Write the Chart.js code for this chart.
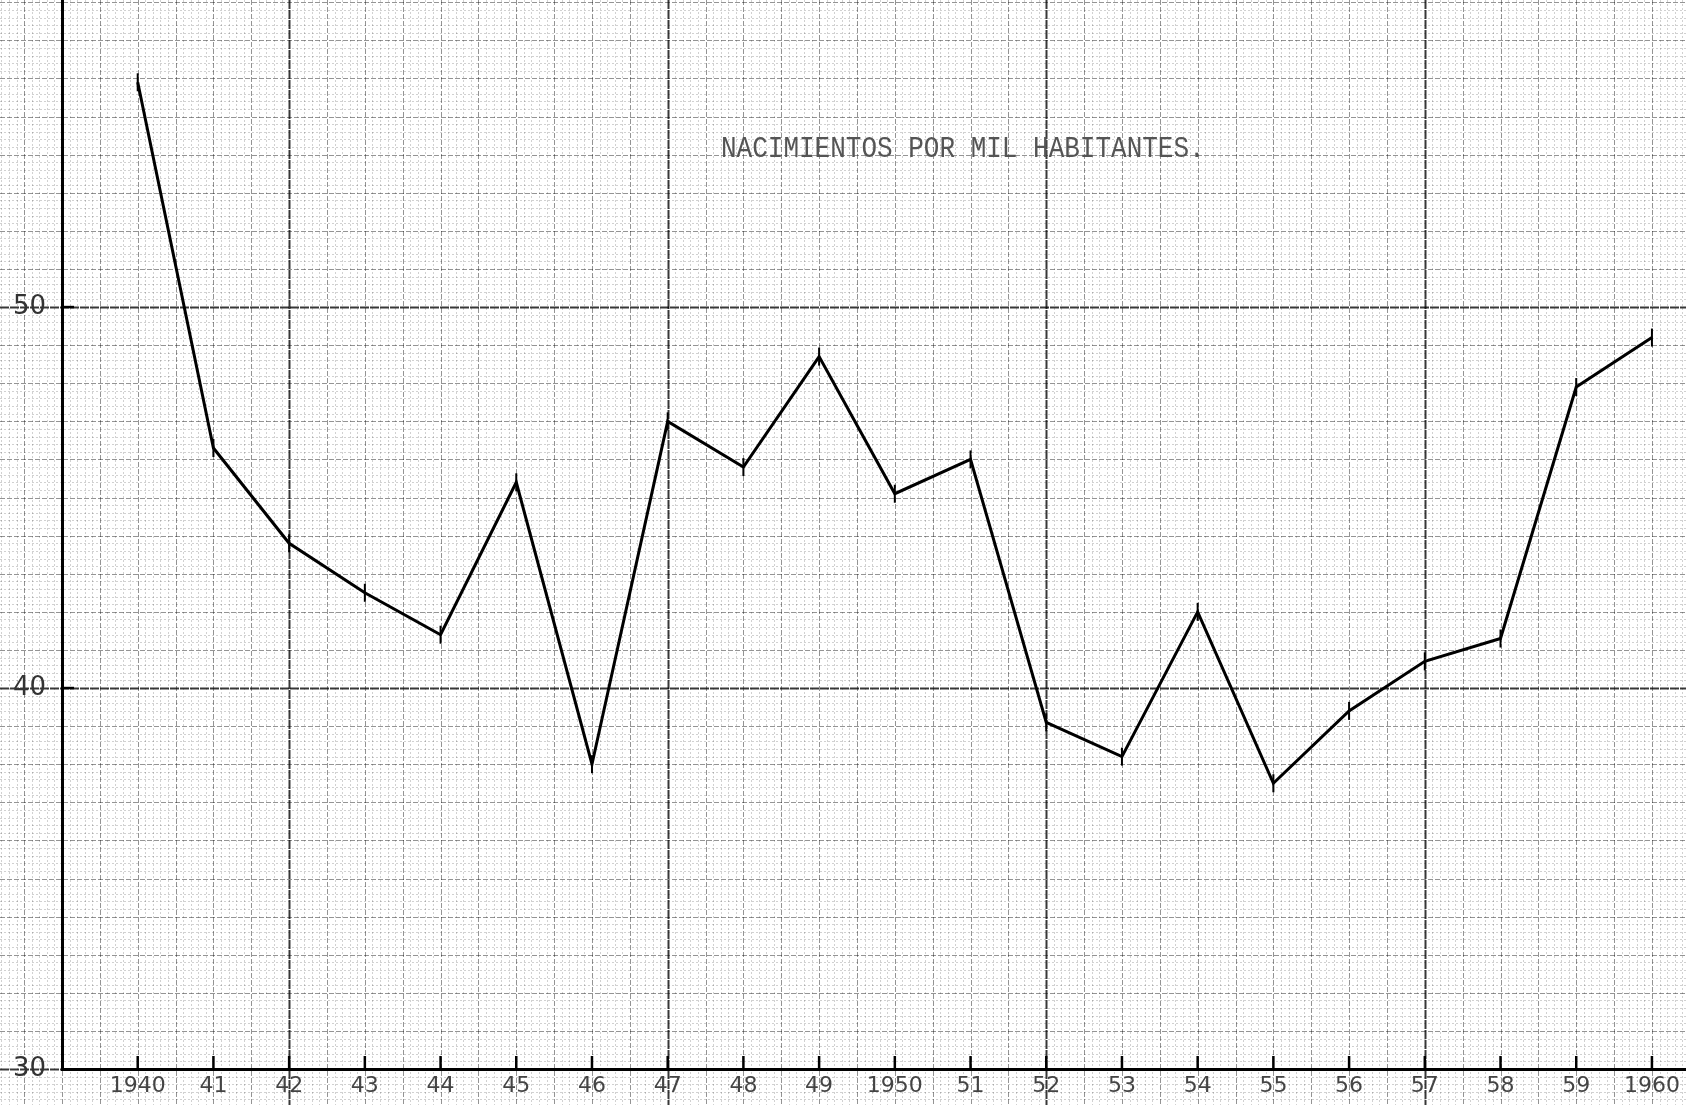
<!DOCTYPE html>
<html>
<head>
<meta charset="utf-8">
<script src="https://cdn.jsdelivr.net/npm/chart.js@4.4.1/dist/chart.umd.min.js"></script>
<style>
  html, body { margin: 0; padding: 0; background: #fff; }
  #wrap { position: relative; width: 1686px; height: 1105px; }
  #title {
    position: absolute; left: 721px; top: 134px;
    font-family: "Liberation Mono", monospace; font-size: 26px; line-height: 26px;
    color: #555; white-space: nowrap;
    transform: scaleY(1.15); transform-origin: left top;
  }
</style>
</head>
<body>
<div id="wrap">
  <canvas id="myChart" width="1686" height="1105"></canvas>
  <div id="title">NACIMIENTOS POR MIL HABITANTES.</div>
</div>
<script>
const years = [1940, 1941, 1942, 1943, 1944, 1945, 1946, 1947, 1948, 1949, 1950,
               1951, 1952, 1953, 1954, 1955, 1956, 1957, 1958, 1959, 1960];
const yearLabels = ['1940', '41', '42', '43', '44', '45', '46', '47', '48', '49', '1950',
                    '51', '52', '53', '54', '55', '56', '57', '58', '59', '1960'];
// nacimientos por mil habitantes
const births = [55.9, 46.3, 43.8, 42.5, 41.4, 45.4, 38.0, 47.0, 45.8, 48.7, 45.1,
                46.0, 39.1, 38.2, 42.0, 37.5, 39.4, 40.7, 41.3, 47.9, 49.2];
const yTickLabels = [30, 40, 50];

// graph paper drawn behind the chart, positioned with the chart's own scales
const paper = {
    id: 'paper',
    beforeDraw(chart) {
        const {ctx, width, height} = chart;
        const xs = chart.scales.x, ys = chart.scales.y;
        ctx.save();
        ctx.fillStyle = '#fff';
        ctx.fillRect(0, 0, width, height);

        const line = (kind, x1, y1, x2, y2) => {
            if (kind === 2) { ctx.strokeStyle = 'rgba(0,0,0,0.78)'; ctx.lineWidth = 2; ctx.setLineDash([9, 1]); }
            else if (kind === 1) { ctx.strokeStyle = 'rgba(0,0,0,0.42)'; ctx.lineWidth = 1; ctx.setLineDash([5, 2]); }
            else { ctx.strokeStyle = 'rgba(0,0,0,0.18)'; ctx.lineWidth = 1; ctx.setLineDash([2, 2]); }
            ctx.beginPath();
            ctx.moveTo(x1, y1);
            ctx.lineTo(x2, y2);
            ctx.stroke();
        };

        // vertical lines every 0.1 year
        for (let k = 19380; k <= 19610; k++) {
            const px = Math.round(xs.getPixelForValue(k / 10)) + 0.5;
            let kind = 0;
            if ((k - 19420) % 50 === 0) kind = 2;
            else if (k % 5 === 0) kind = 1;
            line(kind, px, 0, px, height);
        }
        // horizontal lines every 0.2 unit
        for (let k = 145; k <= 295; k++) {
            const py = Math.round(ys.getPixelForValue(k / 5)) + 0.5;
            let kind = 0;
            if (k % 50 === 0) kind = 2;
            else if (k % 5 === 0) kind = 1;
            line(kind, 0, py, width, py);
        }
        ctx.restore();
    },
    afterDraw(chart) {
        const {ctx} = chart;
        const xs = chart.scales.x, ys = chart.scales.y;
        const area = chart.chartArea;
        ctx.save();
        ctx.strokeStyle = '#000';
        ctx.lineWidth = 2.5;
        years.forEach(yr => {
            const px = xs.getPixelForValue(yr);
            ctx.beginPath();
            ctx.moveTo(px, area.bottom);
            ctx.lineTo(px, area.bottom - 13);
            ctx.stroke();
        });
        yTickLabels.slice(1).forEach(v => {
            const py = ys.getPixelForValue(v);
            ctx.beginPath();
            ctx.moveTo(area.left, py);
            ctx.lineTo(area.left + 12, py);
            ctx.stroke();
        });
        ctx.restore();
    }
};

function noPadding(scale) {
    scale.paddingTop = 0;
    scale.paddingBottom = 0;
    scale.paddingLeft = 0;
    scale.paddingRight = 0;
}

function updateChart() {
    const ctx = document.getElementById('myChart');

    new Chart(ctx, {
        type: 'line',
        data: {
            datasets: [{
                label: 'Nacimientos por mil habitantes',
                data: years.map((yr, i) => ({x: yr, y: births[i]})),
                borderColor: '#000',
                borderWidth: 3,
                pointStyle: 'line',
                rotation: 90,
                pointRadius: 9,
                pointBorderWidth: 2,
                pointBorderColor: '#000',
                tension: 0,
                fill: false
            }]
        },
        options: {
            responsive: false,
            animation: false,
            layout: { padding: 0, autoPadding: false },
            plugins: {
                legend: { display: false },
                tooltip: { enabled: false }
            },
            scales: {
                x: {
                    type: 'linear',
                    min: 1939,
                    max: 1960.45,
                    grid: { display: false, drawTicks: false },
                    border: { display: true, color: '#000', width: 3 },
                    afterFit: (scale) => { scale.height = 36; noPadding(scale); },
                    ticks: {
                        stepSize: 0.1,
                        autoSkip: false,
                        maxRotation: 0,
                        minRotation: 0,
                        padding: 4,
                        color: '#444',
                        font: { family: 'DejaVu Sans', size: 22 },
                        callback: (v) => {
                            const i = years.findIndex(yr => Math.abs(yr - v) < 1e-6);
                            return i >= 0 ? yearLabels[i] : '';
                        }
                    }
                },
                y: {
                    min: 30,
                    max: 58.06,
                    grid: { display: false, drawTicks: false },
                    border: { display: true, color: '#000', width: 3 },
                    afterFit: (scale) => { scale.width = 62; noPadding(scale); },
                    ticks: {
                        stepSize: 0.2,
                        autoSkip: false,
                        padding: 16,
                        color: '#333',
                        font: { family: 'DejaVu Sans', size: 26 },
                        callback: (v) => {
                            const t = yTickLabels.find(l => Math.abs(l - v) < 1e-6);
                            return t !== undefined ? String(t) : '';
                        }
                    }
                }
            }
        },
        plugins: [paper]
    });
}
updateChart();
</script>
</body>
</html>
